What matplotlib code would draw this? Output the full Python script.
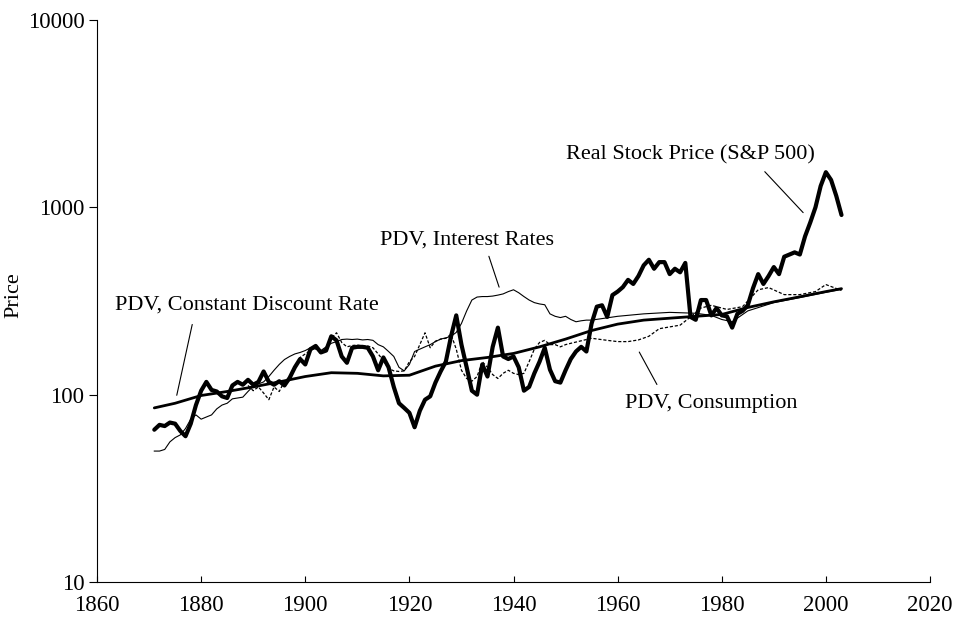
import numpy as np
import matplotlib
matplotlib.use("Agg")
import matplotlib.pyplot as plt
from matplotlib.ticker import FixedLocator, NullLocator, FixedFormatter

plt.rcParams['font.family'] = ['Liberation Serif', 'DejaVu Serif']

# Real stock price (S&P 500), annual 1871-2003
stock_years = list(range(1871, 2004))
stock_price = [
    65, 69, 68, 71, 70, 64, 60, 70, 88, 105,            # 1871-1880
    117, 106, 104, 98, 96, 112, 117, 113, 120, 113,     # 1881-1890
    117, 133, 117, 113, 118, 112, 123, 140, 155, 145,   # 1891-1900
    175, 182, 168, 172, 205, 195, 160, 148, 178, 180,   # 1901-1910
    180, 178, 160, 135, 158, 140, 110, 90, 85, 80,      # 1911-1920
    67, 82, 94, 98, 116, 133, 150, 205, 265, 185,       # 1921-1930
    140, 105, 100, 145, 125, 180, 228, 160, 155, 160,   # 1931-1940
    140, 105, 110, 130, 150, 178, 136, 118, 116, 135,   # 1941-1950
    155, 170, 180, 170, 240, 295, 300, 260, 340, 355,   # 1951-1960
    375, 410, 390, 430, 490, 525, 470, 510, 510, 440,   # 1961-1970
    470, 450, 505, 260, 251, 320, 320, 265, 290, 265,   # 1971-1980
    262, 228, 270, 280, 300, 370, 440, 390, 430, 480,   # 1981-1990
    440, 545, 560, 575, 560, 700, 830, 1000, 1300, 1540,  # 1991-2000
    1400, 1150, 910,                                     # 2001-2003
]

# PDV with a constant discount rate (smooth)
const_years = [1871, 1875, 1880, 1885, 1890, 1895, 1900, 1905, 1910, 1915,
               1920, 1925, 1930, 1935, 1940, 1945, 1950, 1955, 1960, 1965,
               1970, 1975, 1980, 1985, 1990, 1995, 2000, 2003]
const_pdv = [85, 90, 99, 104, 110, 117, 125, 131, 130, 126,
             127, 142, 152, 158, 166, 180, 198, 220, 238, 250,
             256, 262, 268, 292, 313, 333, 355, 368]

# PDV using interest rates
rate_years = list(range(1871, 1955)) + [1955, 1960, 1965, 1970, 1975, 1978,
                                        1980, 1982, 1985, 1990, 1995, 2000, 2003]
rate_pdv = [
    50, 50, 51, 56, 59, 61, 66, 74, 78, 74,              # 1871-1880
    76, 78, 84, 88, 90, 95, 96, 97, 104, 111,            # 1881-1890
    114, 117, 125, 135, 145, 154, 160, 165, 168, 172,    # 1891-1900
    178, 175, 172, 180, 188, 192, 197, 198, 197, 198,    # 1901-1910
    196, 197, 195, 185, 180, 170, 160, 140, 134, 145,    # 1911-1920
    170, 175, 180, 185, 192, 198, 201, 205, 215, 240,    # 1921-1930
    280, 320, 332, 334, 334, 336, 340, 345, 355, 363,    # 1931-1940
    350, 334, 320, 310, 305, 302, 270, 262, 258, 262,    # 1941-1950
    252, 245, 248, 250,                                  # 1951-1954
    250, 262, 270, 275, 272, 265, 252, 245, 280, 310, 330, 352, 365,
]

# PDV using consumption discount rates
cons_years = list(range(1889, 1952)) + [1955, 1958, 1960, 1962, 1964, 1966,
                                        1968, 1970, 1972, 1974, 1976, 1978,
                                        1981, 1984, 1987, 1989, 1992, 1995,
                                        1998, 2000, 2003]
cons_pdv = [
    112, 105, 110, 102, 94, 110, 104, 118, 122, 140, 158, 165,  # 1889-1900
    172, 178, 170, 178, 200, 214, 190, 180, 183, 184,           # 1901-1910
    182, 182, 178, 165, 152, 138, 134, 133, 134, 150,           # 1911-1920
    160, 185, 214, 178, 193, 198, 200, 210, 175, 135,           # 1921-1930
    122, 118, 125, 150, 140, 128, 122, 130, 135, 130,           # 1931-1940
    128, 130, 150, 175, 190, 195, 185, 185, 180, 185,           # 1941-1950
    188,                                                        # 1951
    200, 195, 192, 192, 196, 205, 225, 230, 235, 260, 290, 300,
    285, 295, 363, 373, 342, 342, 355, 387, 360,
]

fig = plt.figure(figsize=(9.56, 6.17), dpi=100)
ax = fig.add_axes([0.1015, 0.0567, 0.8713, 0.9109])

ax.plot(const_years, const_pdv, color='black', lw=2.0, solid_capstyle='round')
ax.plot(rate_years, rate_pdv, color='black', lw=0.8)
ax.plot(cons_years, cons_pdv, color='black', lw=0.9, linestyle=(0, (2.5, 1.5)))
ax.plot(stock_years, stock_price, color='black', lw=3.0,
        solid_joinstyle='round', solid_capstyle='round')

ax.set_yscale('log')
ax.set_xlim(1860, 2020)
ax.set_ylim(10, 10000)
ax.set_xticks(range(1860, 2021, 20))
ax.yaxis.set_major_locator(FixedLocator([10, 100, 1000, 10000]))
ax.yaxis.set_major_formatter(FixedFormatter(['10', '100', '1000', '10000']))
ax.yaxis.set_minor_locator(NullLocator())
ax.tick_params(axis='x', direction='in', length=4, labelsize=16.5, pad=9)
ax.tick_params(axis='y', direction='out', length=6, labelsize=16.5, pad=3)
ax.spines['top'].set_visible(False)
ax.spines['right'].set_visible(False)
ax.set_ylabel('Price', fontsize=16)
ax.yaxis.set_label_coords(-0.088, 0.51)

lbl = dict(fontsize=16, ha='center', va='center')
line = dict(arrowstyle='-', color='black', lw=0.8)

ax.text(1888.8, 302, 'PDV, Constant Discount Rate', **lbl)
ax.annotate('', xy=(1875.2, 96), xytext=(1878.4, 245), arrowprops=line)

ax.text(1931.1, 672, 'PDV, Interest Rates', **lbl)
ax.annotate('', xy=(1937.4, 363), xytext=(1935.1, 566), arrowprops=line)

ax.text(1973.9, 1910, 'Real Stock Price (S&P 500)', **lbl)
ax.annotate('', xy=(1996, 914), xytext=(1987.9, 1589), arrowprops=line)

ax.text(1977.9, 90, 'PDV, Consumption', **lbl)
ax.annotate('', xy=(1963.9, 174), xytext=(1967.8, 110), arrowprops=line)

fig.savefig('out.png', dpi=100)
